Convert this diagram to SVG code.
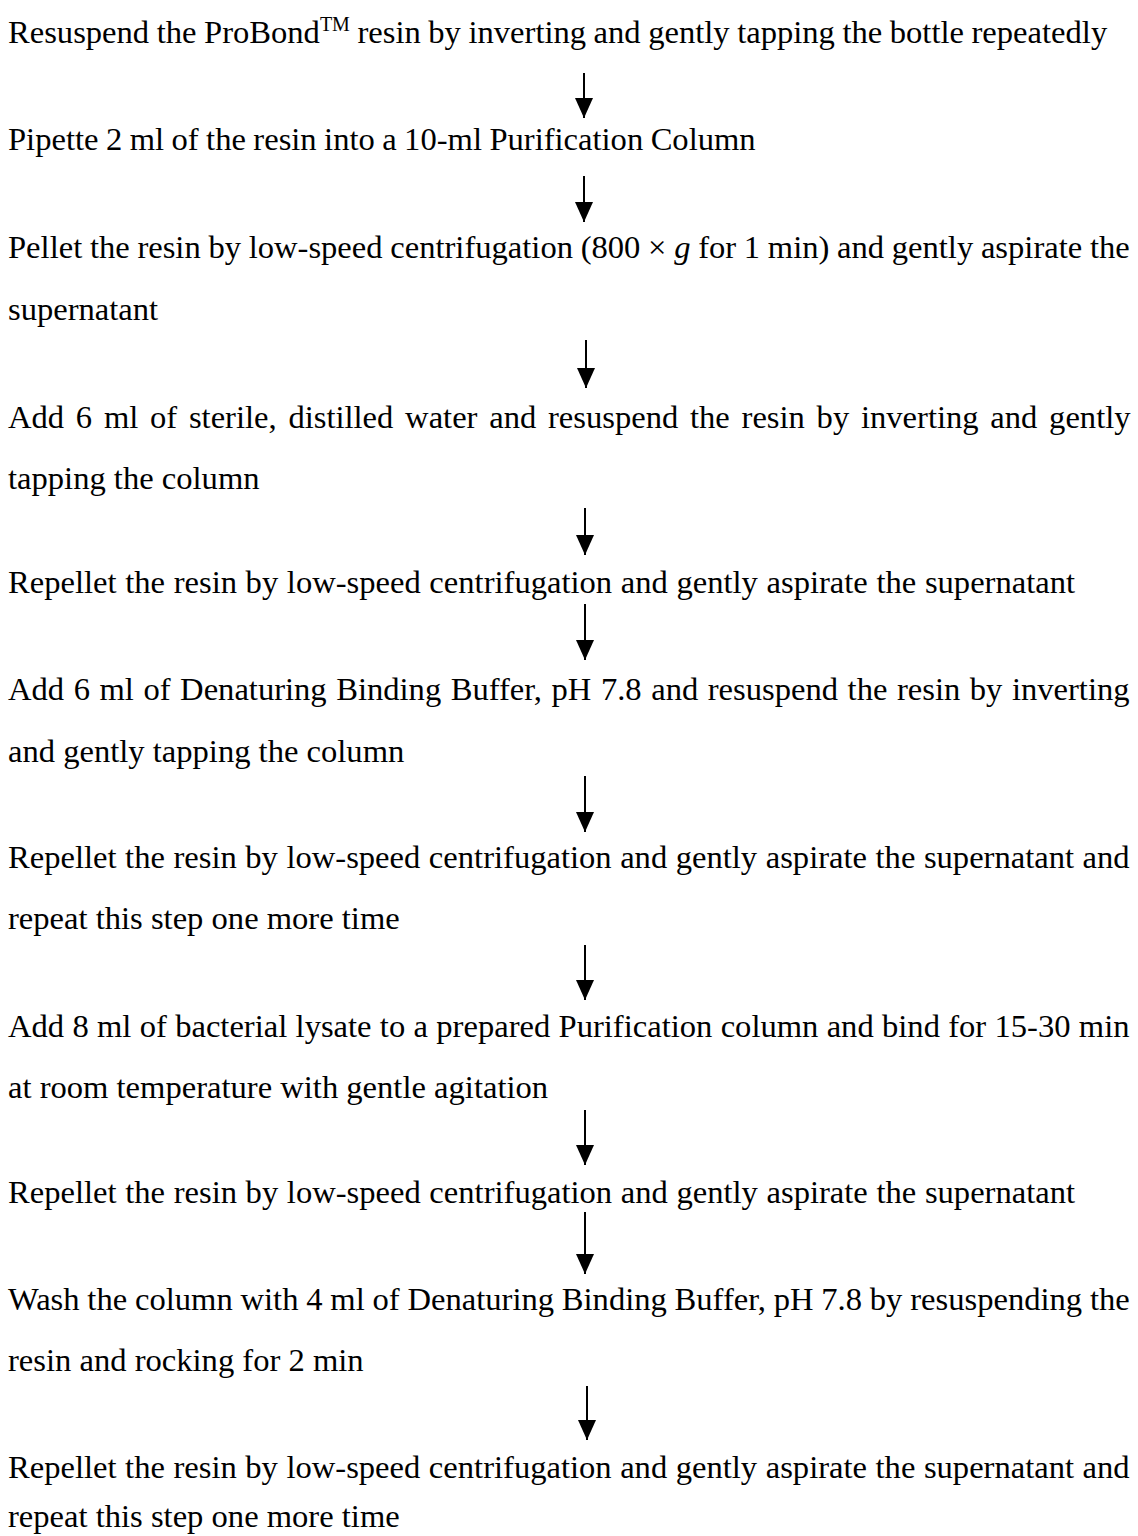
<svg xmlns="http://www.w3.org/2000/svg" width="1138" height="1536" viewBox="0 0 1138 1536">
<style>
text{font-family:"Liberation Serif","Times New Roman",serif;font-size:32.6px;fill:#000}
.sup{font-size:20px}
.shaft{stroke:#000;stroke-width:2;fill:none}
</style>
<defs>
<marker id="ah" markerWidth="20" markerHeight="18" refX="20" refY="9" orient="auto" markerUnits="userSpaceOnUse" viewBox="0 0 20 18">
<path d="M0,0 L20,9 L0,18 Z" fill="#000"/>
</marker>
</defs>
<rect width="1138" height="1536" fill="#fff"/>
<g id="step1"><text x="8" y="43" word-spacing="-0.6">Resuspend the ProBond<tspan class="sup" dy="-12">TM</tspan><tspan dy="12"> resin by inverting and gently tapping the bottle repeatedly</tspan></text></g>
<g id="step2"><text x="8" y="150" word-spacing="-0.7">Pipette 2 ml of the resin into a 10-ml Purification Column</text></g>
<g id="step3"><text x="8" y="258" word-spacing="-0.45">Pellet the resin by low-speed centrifugation (800 × <tspan font-style="italic">g</tspan> for 1 min) and gently aspirate the</text><text x="8" y="320">supernatant</text></g>
<g id="step4"><text x="8" y="428" word-spacing="3.6">Add 6 ml of sterile, distilled water and resuspend the resin by inverting and gently</text><text x="8" y="489">tapping the column</text></g>
<g id="step5"><text x="8" y="593" word-spacing="0.5">Repellet the resin by low-speed centrifugation and gently aspirate the supernatant</text></g>
<g id="step6"><text x="8" y="700" word-spacing="1.4">Add 6 ml of Denaturing Binding Buffer, pH 7.8 and resuspend the resin by inverting</text><text x="8" y="762">and gently tapping the column</text></g>
<g id="step7"><text x="8" y="868" word-spacing="0.4">Repellet the resin by low-speed centrifugation and gently aspirate the supernatant and</text><text x="8" y="929">repeat this step one more time</text></g>
<g id="step8"><text x="8" y="1037" word-spacing="0.16">Add 8 ml of bacterial lysate to a prepared Purification column and bind for 15-30 min</text><text x="8" y="1098">at room temperature with gentle agitation</text></g>
<g id="step9"><text x="8" y="1203" word-spacing="0.5">Repellet the resin by low-speed centrifugation and gently aspirate the supernatant</text></g>
<g id="step10"><text x="8" y="1310" word-spacing="-0.34">Wash the column with 4 ml of Denaturing Binding Buffer, pH 7.8 by resuspending the</text><text x="8" y="1371">resin and rocking for 2 min</text></g>
<g id="step11"><text x="8" y="1478" word-spacing="0.4">Repellet the resin by low-speed centrifugation and gently aspirate the supernatant and</text><text x="8" y="1527">repeat this step one more time</text></g>
<g id="connectors">
<line class="shaft" x1="584" y1="73" x2="584" y2="118" marker-end="url(#ah)"/>
<line class="shaft" x1="584" y1="176" x2="584" y2="222" marker-end="url(#ah)"/>
<line class="shaft" x1="586" y1="340" x2="586" y2="388" marker-end="url(#ah)"/>
<line class="shaft" x1="585" y1="508" x2="585" y2="555" marker-end="url(#ah)"/>
<line class="shaft" x1="585" y1="604" x2="585" y2="660" marker-end="url(#ah)"/>
<line class="shaft" x1="585" y1="776" x2="585" y2="832" marker-end="url(#ah)"/>
<line class="shaft" x1="585" y1="945" x2="585" y2="1000" marker-end="url(#ah)"/>
<line class="shaft" x1="585" y1="1110" x2="585" y2="1165" marker-end="url(#ah)"/>
<line class="shaft" x1="585" y1="1212" x2="585" y2="1274" marker-end="url(#ah)"/>
<line class="shaft" x1="587" y1="1386" x2="587" y2="1440" marker-end="url(#ah)"/>
</g>
</svg>
